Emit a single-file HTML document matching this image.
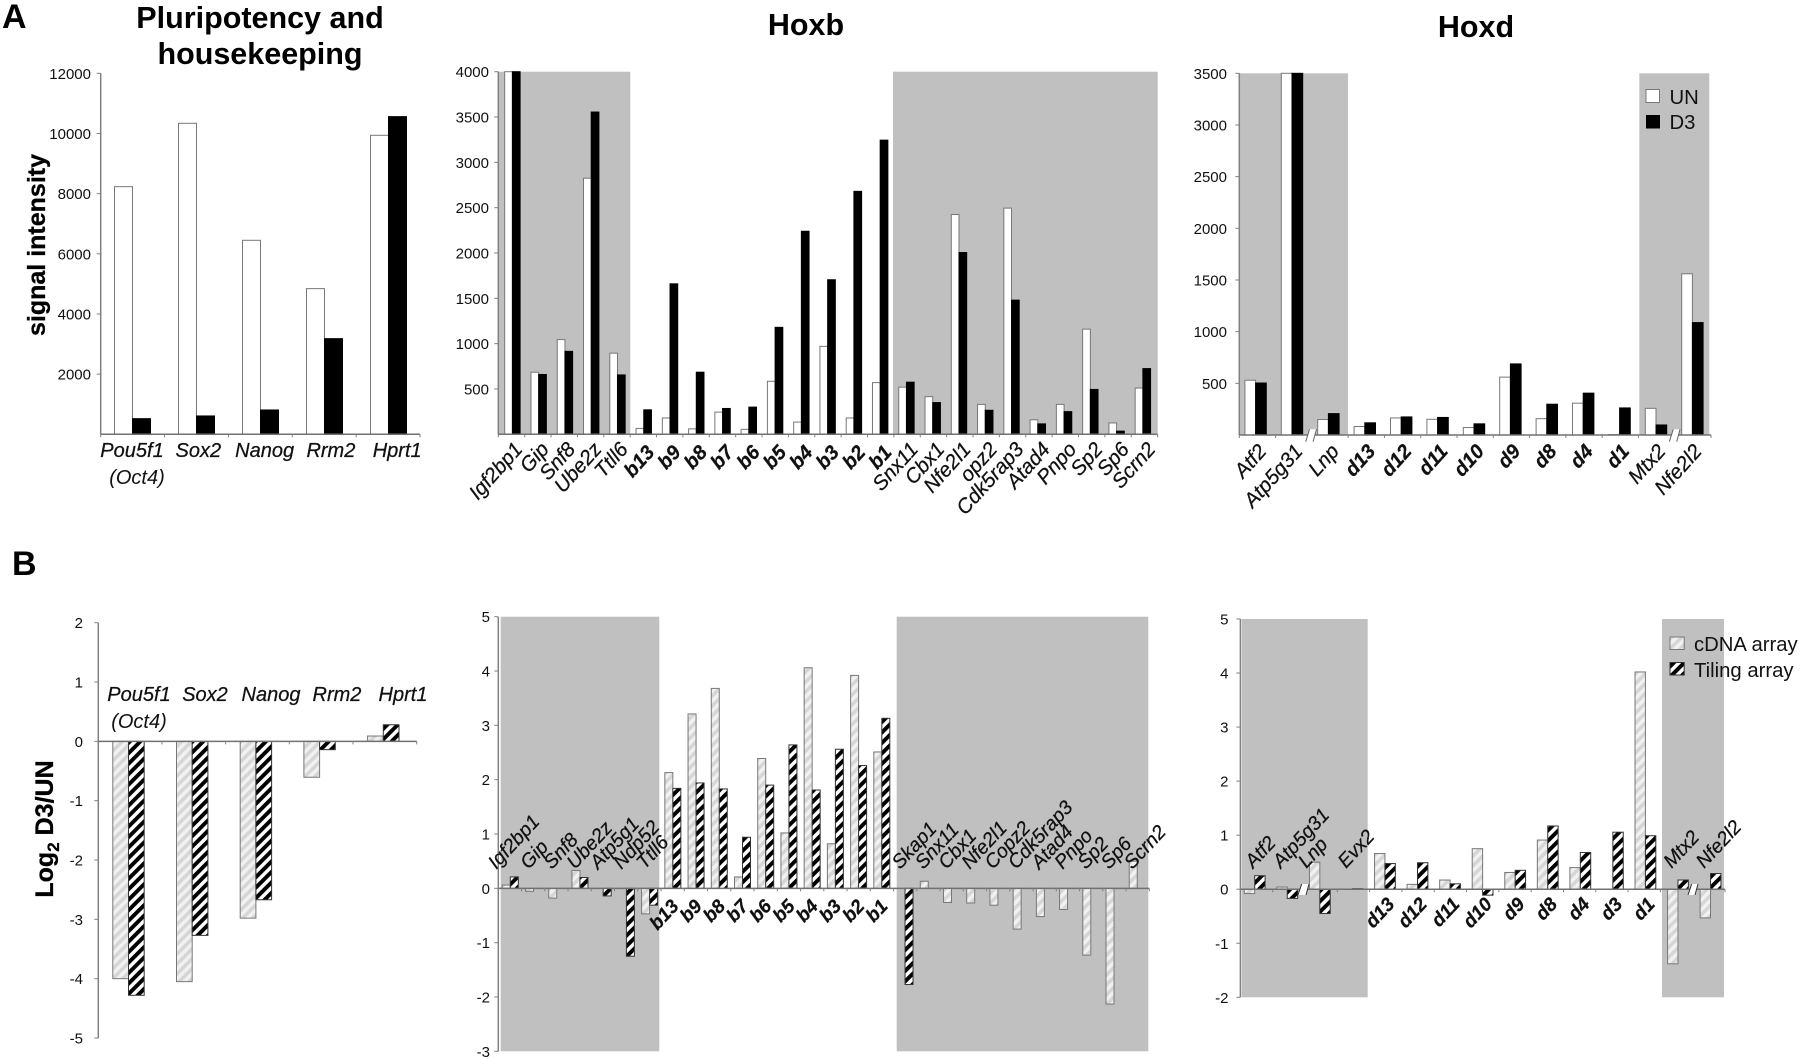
<!DOCTYPE html>
<html lang="en">
<head>
<meta charset="utf-8">
<title>Hox gene expression bar charts</title>
<style>
html,body{margin:0;padding:0;background:#fff;}
svg{display:block;font-family:"Liberation Sans",Arial,sans-serif;}
text{fill:#111;}
.title{font-weight:bold;font-size:30.5px;text-anchor:middle;fill:#000;}
.letter{font-weight:bold;font-size:34px;fill:#000;}
.ytitle{font-weight:bold;font-size:25px;text-anchor:middle;fill:#000;stroke:#000;stroke-width:0.3px;}
.legend{font-size:20.3px;}
</style>
</head>
<body>
<svg id="figure" width="1800" height="1059" viewBox="0 0 1800 1059" xmlns="http://www.w3.org/2000/svg">
<defs>
<pattern id="lightHatch" width="7" height="7" patternUnits="userSpaceOnUse" patternTransform="rotate(45)">
<rect width="7" height="7" fill="#f1f1f1"/><rect width="3.5" height="7" fill="#d6d6d6"/>
</pattern>
<pattern id="darkHatch" width="7.4" height="7.4" patternUnits="userSpaceOnUse" patternTransform="rotate(45)">
<rect width="7.4" height="7.4" fill="#fff"/><rect width="3.9" height="7.4" fill="#000"/>
</pattern>
</defs>
<text class="letter" x="2" y="28">A</text>
<text class="letter" x="12" y="575">B</text>
<text class="title" x="260" y="28">Pluripotency and</text>
<text class="title" x="260" y="64">housekeeping</text>
<text class="title" x="806" y="35">Hoxb</text>
<text class="title" x="1476" y="37">Hoxd</text>
<text class="ytitle" transform="translate(45 245) rotate(-90)">signal intensity</text>
<text class="ytitle" transform="translate(53 829) rotate(-90)">Log<tspan font-size="17" dy="6">2</tspan><tspan dy="-6"> D3/UN</tspan></text>
<g id="charts"></g>
<g>
<path d="M1305.7 441.7 L1309.5 429.3 L1316.5 429.3 L1313 441.7 Z" fill="#fff"/>
<path d="M1305.7 441.7 L1309.5 429.3 M1313 441.7 L1316.5 429.3" fill="none" stroke="#666" stroke-width="1"/>
<path d="M1669.3 441.7 L1673.3 429.3 L1680 429.3 L1676.7 441.7 Z" fill="#fff"/>
<path d="M1669.3 441.7 L1673.3 429.3 M1676.7 441.7 L1680 429.3" fill="none" stroke="#666" stroke-width="1"/>
</g>
<g>
<path d="M1298 895 L1301.7 884 L1309 884 L1306 895 Z" fill="#fff"/>
<path d="M1298 895 L1301.7 884 M1306 895 L1309 884" fill="none" stroke="#333" stroke-width="1"/>
<path d="M1688 895 L1691.7 884 L1698 884 L1695 895 Z" fill="#fff"/>
<path d="M1688 895 L1691.7 884 M1695 895 L1698 884" fill="none" stroke="#333" stroke-width="1"/>
</g>
<g>
<rect x="1646" y="89.5" width="13.5" height="13" fill="#fff" stroke="#777" stroke-width="1"/>
<text class="legend" x="1669.5" y="104">UN</text>
<rect x="1646" y="115" width="14" height="13.5" fill="#000"/>
<text class="legend" x="1669.5" y="129">D3</text>
</g>
<g>
<rect x="1670" y="637" width="14.2" height="12.5" fill="url(#lightHatch)" stroke="#777" stroke-width="1"/>
<text class="legend" x="1694" y="651">cDNA array</text>
<rect x="1670" y="662.5" width="14.2" height="12.5" fill="url(#darkHatch)" stroke="#333" stroke-width="1"/>
<text class="legend" x="1694" y="677">Tiling array</text>
</g>
</svg>
<script>
var pluriGenes = ['Pou5f1','Sox2','Nanog','Rrm2','Hprt1'];
var pluriUn = [8232,10338,6449,4842,9939];
var pluriD3 = [520,610,809,3180,10560];
var pluriSignalTicks = [2000,4000,6000,8000,10000,12000];

var hoxbGenes = ['Igf2bp1','Gip','Snf8','Ube2z','Ttll6','b13','b9','b8','b7','b6','b5','b4','b3','b2','b1','Snx11','Cbx1','Nfe2l1','opz2','Cdk5rap3','Atad4','Pnpo','Sp2','Sp6','Scrn2'];
var hoxbUn = [4000,685,1045,2825,895,65,180,60,245,55,585,135,970,180,570,520,415,2425,330,2495,160,330,1160,125,510];
var hoxbD3 = [4000,660,915,3555,655,270,1660,685,285,300,1180,2240,1705,2680,3245,575,350,2005,265,1480,115,250,495,35,725];
var hoxbSignalTicks = [500,1000,1500,2000,2500,3000,3500,4000];

var hoxdGenes = ['Atf2','Atp5g31','Lnp','d13','d12','d11','d10','d9','d8','d4','d1','Mtx2','Nfe2l2'];
var hoxdUn = [530,3500,150,82,165,152,72,560,158,308,5,258,1560];
var hoxdD3 = [503,3500,207,118,175,170,108,688,298,405,262,97,1088];
var hoxdSignalTicks = [500,1000,1500,2000,2500,3000,3500];

var pluriCdna = [-4.0,-4.05,-2.98,-0.605,0.09];
var pluriTiling = [-4.28,-3.27,-2.67,-0.14,0.28];
var pluriLogTicks = [-5,-4,-3,-2,-1,0,1,2];

var hoxbLogGenes = ['Igf2bp1','Gip','Snf8','Ube2z','Atp5g1','Ndp52','Ttll6','b13','b9','b8','b7','b6','b5','b4','b3','b2','b1','Skap1','Snx11','Cbx1','Nfe2l1','Copz2','Cdk5rap3','Atad4','Pnpo','Sp2','Sp6','Scrn2'];
var hoxbCdna = [0.06,-0.055,-0.18,0.33,0,0,-0.47,2.13,3.21,3.68,0.21,2.39,1.02,4.06,0.82,3.92,2.51,0,0.13,-0.26,-0.27,-0.31,-0.75,-0.52,-0.39,-1.23,-2.13,0.5];
var hoxbTiling = [0.21,0,0,0.2,-0.14,-1.25,-0.31,1.84,1.94,1.83,0.94,1.9,2.64,1.81,2.56,2.26,3.13,-1.77,0,0,0,0,0,0,0,0,0,0];
var hoxbLogTicks = [-3,-2,-1,0,1,2,3,4,5];

var hoxdLogGenes = ['Atf2','Atp5g31','Lnp','Evx2','d13','d12','d11','d10','d9','d8','d4','d3','d1','Mtx2','Nfe2l2'];
var hoxdCdna = [-0.08,0.04,0.5,0,0.66,0.09,0.17,0.75,0.31,0.91,0.4,0,4.02,-1.38,-0.53];
var hoxdTiling = [0.25,-0.17,-0.45,0.01,0.475,0.49,0.1,-0.11,0.35,1.17,0.68,1.055,0.99,0.17,0.29];
var hoxdLogTicks = [-2,-1,0,1,2,3,4,5];

var NS = 'http://www.w3.org/2000/svg';
var charts = document.getElementById('charts');

function shape(tag, parent, attrs) {
  var el = document.createElementNS(NS, tag);
  for (var k in attrs) { el.setAttribute(k, attrs[k]); }
  parent.appendChild(el);
  return el;
}
function slug(s) { return s.toLowerCase().replace(/[^a-z0-9]+/g, '-'); }
function isHox(s) { return /^[bd][0-9]+$/.test(s); }

function drawChart(o) {
  var g = shape('g', charts, {});
  
  

  var yScale = function (v) {
    return o.bottom - (v - o.yMin) / (o.yMax - o.yMin) * (o.bottom - o.top);
  };
  var tickX = function (i) {
    return o.left + i * (o.right - o.left) / o.categories.length;
  };
  var barX = function (i) {
    return o.barStart + i * o.barPitch;
  };
  var zeroY = yScale(Math.max(0, o.yMin));

  (o.shades || []).forEach(function (s) {
    var band = shape('rect', g, {x: s[0], y: o.top, width: s[1] - s[0], height: o.bottom - o.top, fill: '#c0c0c0'});
    
    
  });

  o.series.forEach(function (vals, si) {
    vals.forEach(function (v, i) {
      var y0 = yScale(v);
      var rect = shape('rect', g, {
        x: barX(i) + si * o.barWidth,
        y: Math.min(y0, zeroY),
        width: o.barWidth,
        height: Math.abs(y0 - zeroY),
        fill: o.fills[si],
        stroke: o.strokes[si],
        'stroke-width': 1
      });
      
      
    });
  });

  var yAxis = shape('line', g, {x1: o.left, x2: o.left, y1: o.top, y2: o.bottom, stroke: '#808080', 'stroke-width': 1.5});
  
  
  var xAxis = shape('line', g, {x1: o.left, x2: o.right, y1: zeroY, y2: zeroY, stroke: '#707070', 'stroke-width': 1.5});
  
  

  o.ticks.forEach(function (t) {
    var ty = yScale(t);
    var mark = shape('line', g, {x1: o.left - 4, x2: o.left, y1: ty, y2: ty, stroke: '#808080', 'stroke-width': 1});
    
    
    var lab = shape('text', g, {x: o.tickLabelRight, y: ty + 5.5, 'font-size': 15, 'text-anchor': 'end'});
    lab.textContent = String(t);
    
    
  });

  for (var i = 0; i <= o.categories.length; i++) {
    var mark = shape('line', g, {x1: tickX(i), x2: tickX(i), y1: zeroY, y2: zeroY + 3, stroke: '#808080', 'stroke-width': 1});
    
    
  }

  o.categories.forEach(function (c, i) {
    var attrs = {'font-size': o.labelSize, 'font-style': 'italic', stroke: '#111', 'stroke-width': 0.25};
    var bold = isHox(c);
    if (bold) { attrs['font-weight'] = 'bold'; attrs['font-size'] = o.boldSize || 19; attrs.fill = '#000'; }
    var p = o.labelAt(i, c, tickX, barX, bold);
    attrs['text-anchor'] = p.anchor;
    if (p.rotate) {
      attrs.transform = 'translate(' + p.x + ' ' + p.y + ') rotate(' + p.rotate + ')';
    } else {
      attrs.x = p.x;
      attrs.y = p.y;
    }
    var lab = shape('text', g, attrs);
    lab.textContent = c;
    
    
  });

  if (o.sublabel) {
    var sub = shape('text', g, {x: o.sublabel.x, y: o.sublabel.y, 'font-size': 20, 'font-style': 'italic', 'text-anchor': 'middle'});
    sub.textContent = o.sublabel.text;
    
    
  }
}

var signalStyle = {fills: ['#fff', '#000'], strokes: ['#777', '#000'], seriesNames: ['un', 'd3']};
var logStyle = {fills: ['url(#lightHatch)', 'url(#darkHatch)'], strokes: ['#777', '#333'], seriesNames: ['cdna', 'tiling']};
var TOP_ANGLE = -48;
var BOTTOM_ANGLE = -47;
var aboveLabelShift = function (c) {
  if (c === 'Igf2bp1') { return -9; }
  if (c === 'Lnp') { return -7; }
  if (c === 'Atf2') { return 5; }
  return 0;
};

drawChart(Object.assign({
  name: 'chart-pluripotency-signal', categories: pluriGenes, series: [pluriUn, pluriD3], ticks: pluriSignalTicks,
  yMin: 0, yMax: 12000, left: 100.7, right: 420, top: 73.3, bottom: 434.3, tickLabelRight: 91,
  barStart: 114.5, barPitch: 64, barWidth: 18, labelSize: 20,
  labelAt: function (i) { return {x: 132 + 66.3 * i, y: 457, anchor: 'middle'}; },
  sublabel: {text: '(Oct4)', x: 137, y: 484}
}, signalStyle));

drawChart(Object.assign({
  name: 'chart-hoxb-signal', categories: hoxbGenes, series: [hoxbUn, hoxbD3], ticks: hoxbSignalTicks,
  yMin: 0, yMax: 4000, left: 498.3, right: 1157.6, top: 71.7, bottom: 434.3, tickLabelRight: 489,
  shades: [[498.3, 630.3], [893, 1157.7]],
  barStart: 504.7, barPitch: 26.27, barWidth: 7.7, labelSize: 20.5, boldSize: 20,
  labelAt: function (i, c, tickX, barX, bold) { return {x: tickX(i + 1) - 1, y: bold ? 453 : 450, anchor: 'end', rotate: TOP_ANGLE}; }
}, signalStyle));

drawChart(Object.assign({
  name: 'chart-hoxd-signal', categories: hoxdGenes, series: [hoxdUn, hoxdD3], ticks: hoxdSignalTicks,
  yMin: 0, yMax: 3500, left: 1239.3, right: 1711, top: 73.3, bottom: 435, tickLabelRight: 1227,
  shades: [[1239.3, 1348], [1639.3, 1709.3]],
  barStart: 1244.9, barPitch: 36.4, barWidth: 10.7, labelSize: 20.5, boldSize: 20,
  labelAt: function (i, c, tickX) { return {x: tickX(i + 1) - 8, y: 452, anchor: 'end', rotate: TOP_ANGLE}; }
}, signalStyle));

drawChart(Object.assign({
  name: 'chart-pluripotency-log', categories: pluriGenes, series: [pluriCdna, pluriTiling], ticks: pluriLogTicks,
  yMin: -5, yMax: 2, left: 98.3, right: 416.7, top: 622.7, bottom: 1038, tickLabelRight: 83,
  barStart: 112.8, barPitch: 63.7, barWidth: 15.7, labelSize: 20,
  labelAt: function (i) { return {x: 139 + 66 * i, y: 701, anchor: 'middle'}; },
  sublabel: {text: '(Oct4)', x: 139, y: 728}
}, logStyle));

drawChart(Object.assign({
  name: 'chart-hoxb-log', categories: hoxbLogGenes, series: [hoxbCdna, hoxbTiling], ticks: hoxbLogTicks,
  yMin: -3, yMax: 5, left: 498.3, right: 1149.3, top: 616.7, bottom: 1051.3, tickLabelRight: 490,
  shades: [[500.7, 659.3], [896.7, 1148.3]],
  barStart: 502.3, barPitch: 23.22, barWidth: 8, labelSize: 19.5, boldSize: 19,
  labelAt: function (i, c, tickX, barX, bold) {
    return bold ? {x: barX(i) + 15, y: 907, anchor: 'end', rotate: BOTTOM_ANGLE}
                : {x: barX(i) + 3 + aboveLabelShift(c), y: 870, anchor: 'start', rotate: BOTTOM_ANGLE};
  }
}, logStyle));

drawChart(Object.assign({
  name: 'chart-hoxd-log', categories: hoxdLogGenes, series: [hoxdCdna, hoxdTiling], ticks: hoxdLogTicks,
  yMin: -2, yMax: 5, left: 1240.4, right: 1725, top: 619, bottom: 997.3, tickLabelRight: 1228.5,
  shades: [[1241.7, 1367.7], [1662, 1724]],
  barStart: 1244.3, barPitch: 32.56, barWidth: 10.4, labelSize: 19.5, boldSize: 19,
  labelAt: function (i, c, tickX, barX, bold) {
    return bold ? {x: barX(i) + 21, y: 905, anchor: 'end', rotate: BOTTOM_ANGLE}
                : {x: barX(i) + 4 + aboveLabelShift(c), y: 869, anchor: 'start', rotate: BOTTOM_ANGLE};
  }
}, logStyle));
</script>
</body>
</html>
